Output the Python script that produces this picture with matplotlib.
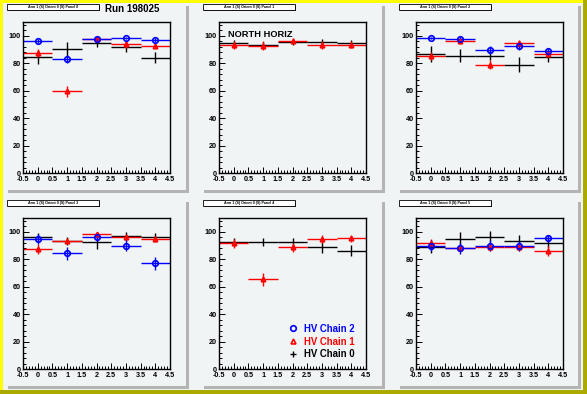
import matplotlib
matplotlib.use("Agg")
import matplotlib.pyplot as plt
from matplotlib.patches import Rectangle
from matplotlib.ticker import MultipleLocator, FixedLocator
from matplotlib.lines import Line2D

plt.rcParams['font.family'] = ['Liberation Sans', 'DejaVu Sans']

W, H = 587, 394

# ---------------- data ----------------
bins = [0, 1, 2, 3, 4]
panel_titles = ["Arm 1 (S) Orient 0 (S) Panel 0", "Arm 1 (S) Orient 0 (S) Panel 1",
                "Arm 1 (S) Orient 0 (S) Panel 2", "Arm 1 (S) Orient 0 (S) Panel 3",
                "Arm 1 (S) Orient 0 (S) Panel 4", "Arm 1 (S) Orient 0 (S) Panel 5"]
series_labels = ["HV Chain 2", "HV Chain 1", "HV Chain 0"]
x_tick_labels = ['-0.5', '0', '0.5', '1', '1.5', '2', '2.5', '3', '3.5', '4', '4.5']

chain2_vals = [[96.1, 83.1, 97.6, 98.3, 96.9],
               None,
               [98.3, 97.6, 89.6, 92.8, 88.7],
               [94.7, 84.2, 96.4, 89.8, 76.9],
               None,
               [89.8, 87.9, 89.8, 89.8, 95.1]]
chain2_errs = [[1.5, 3.0, 1.2, 1.0, 1.2],
               None,
               [1.0, 1.2, 3.0, 3.5, 2.5],
               [3.5, 5.0, 3.0, 4.0, 4.5],
               None,
               [4.0, 4.0, 4.0, 3.5, 2.5]]
chain1_vals = [[87.5, 59.5, 97.6, 94.0, 92.8],
               [93.5, 92.8, 96.4, 93.5, 93.5],
               [85.5, 96.4, 79.0, 94.7, 86.7],
               [87.4, 93.2, 98.1, 96.4, 94.7],
               [91.5, 65.3, 88.6, 94.7, 95.1],
               [91.5, 88.3, 88.6, 88.6, 86.0]]
chain1_errs = [[3.0, 4.0, 1.5, 3.0, 2.0],
               [3.0, 3.0, 2.0, 3.0, 2.5],
               [3.0, 2.5, 3.0, 2.0, 2.0],
               [3.5, 2.5, 2.0, 2.0, 2.5],
               [3.5, 4.5, 3.5, 3.0, 2.5],
               [3.0, 3.0, 3.0, 3.0, 3.5]]
chain0_vals = [[84.3, 90.4, 94.7, 92.0, 83.9],
               [94.7, 93.3, 95.6, 95.3, 94.7],
               [86.7, 85.5, 85.5, 79.0, 84.8],
               [95.9, 93.5, 92.2, 96.6, 95.9],
               [92.7, 92.7, 92.7, 88.6, 86.2],
               [88.6, 95.0, 96.4, 93.4, 92.0]]
chain0_errs = [[5.0, 5.0, 3.0, 4.0, 4.0],
               [2.0, 2.0, 2.0, 2.0, 2.0],
               [5.5, 5.0, 3.5, 5.5, 4.0],
               [3.0, 3.0, 4.5, 3.0, 3.0],
               [3.0, 3.0, 3.0, 4.0, 4.0],
               [4.0, 5.0, 4.0, 4.0, 4.0]]

bg = '#f0f4f4'
fig = plt.figure(figsize=(W / 100, H / 100), dpi=100, facecolor=bg)

def frect(x, y, w, h, z=-10, **kw):
    r = Rectangle((x / W, 1 - (y + h) / H), w / W, h / H, transform=fig.transFigure,
                  zorder=z, **kw)
    fig.patches.append(r)
    return r

# canvas border
frect(0, 0, W, 3, facecolor='#ffff00', edgecolor='none')
frect(0, 0, 3, H, facecolor='#ffff00', edgecolor='none')
frect(W - 4, 0, 4, H, facecolor='#aaaa00', edgecolor='none')
frect(0, H - 4, W, 4, facecolor='#aaaa00', edgecolor='none')

pad_x = [5, 201, 397]
pad_y = [3, 199]
pad_w, pad_h = 181, 187
ax_x = [23, 219, 416]
ax_y = [22, 218]
ax_w, ax_h = 147, 151

for i in range(6):
    r, c = divmod(i, 3)
    px, py = pad_x[c], pad_y[r]
    # pad shadow and body
    frect(px + 3, py + 3, pad_w, pad_h, facecolor='#b4b4b4', edgecolor='none')
    frect(px, py, pad_w, pad_h, facecolor=bg, edgecolor='none', z=-9)
    # title box
    frect(px + 3, py + 1.5, 92, 6.5, facecolor='black', edgecolor='none', z=5)
    frect(px + 2, py + 0.5, 92, 6.5, facecolor='white', edgecolor='black', linewidth=0.6, z=6)
    fig.text((px + 48) / W, 1 - (py + 3.8) / H, panel_titles[i], fontsize=2.6,
             fontweight='bold', ha='center', va='center', zorder=7)

    ax = fig.add_axes([ax_x[c] / W, 1 - (ax_y[r] + ax_h) / H, ax_w / W, ax_h / H])
    ax.set_facecolor(bg)
    ax.set_xlim(-0.5, 4.5)
    ax.set_ylim(0, 110)
    for s in ax.spines.values():
        s.set_linewidth(1.0)
    ax.xaxis.set_major_locator(FixedLocator([-0.5, 0, 0.5, 1, 1.5, 2, 2.5, 3, 3.5, 4, 4.5]))
    ax.set_xticklabels(x_tick_labels)
    ax.xaxis.set_minor_locator(MultipleLocator(0.1))
    ax.yaxis.set_major_locator(MultipleLocator(20))
    ax.yaxis.set_minor_locator(MultipleLocator(4))
    ax.tick_params(which='both', direction='in', top=False, right=False, width=0.7,
                   labelsize=5.2)
    ax.tick_params(axis='x', pad=2.2)
    ax.tick_params(axis='y', pad=1.5)
    ax.tick_params(which='major', length=4)
    ax.tick_params(which='minor', length=2)
    for lab in ax.get_xticklabels() + ax.get_yticklabels():
        lab.set_fontweight('bold')
    ax.get_yticklabels()[0].set_va('bottom')

    ax.errorbar(bins, chain0_vals[i], xerr=0.5, yerr=chain0_errs[i], fmt='none',
                ecolor='black', elinewidth=1.0, capsize=0)
    ax.errorbar(bins, chain1_vals[i], xerr=0.5, yerr=chain1_errs[i], fmt='^',
                color='red', ecolor='red', elinewidth=1.0, capsize=0, ms=3.2,
                mfc='none', mec='red', mew=1.2)
    if chain2_vals[i] is not None:
        ax.errorbar(bins, chain2_vals[i], xerr=0.5, yerr=chain2_errs[i], fmt='o',
                    color='blue', ecolor='blue', elinewidth=1.0, capsize=0, ms=4,
                    mfc='none', mec='blue', mew=1.2)

    if i == 1:
        ax.text(0.06, 0.95, "NORTH HORIZ", transform=ax.transAxes, fontsize=6.7,
                fontweight='bold', va='top', ha='left')
    if i == 4:
        handles = [Line2D([], [], ls='none', marker='o', mfc='none', mec='blue', mew=1.2, ms=4),
                   Line2D([], [], ls='none', marker='^', mfc='none', mec='red', mew=1.2, ms=3.5),
                   Line2D([], [], ls='none', marker='+', color='black', mew=1.0, ms=5)]
        leg = ax.legend(handles, series_labels, loc='lower right', frameon=False,
                        prop={'weight': 'bold', 'size': 6.9}, handlelength=1.0,
                        handletextpad=0.7, labelspacing=0.3, borderaxespad=0.2,
                        bbox_to_anchor=(0.965, 0.025))
        for t, col in zip(leg.get_texts(), ['blue', 'red', 'black']):
            t.set_color(col)

fig.text(105 / W, 1 - 8.5 / H, "Run 198025", fontsize=7, fontweight='bold',
         ha='left', va='center')

fig.savefig("out.png", dpi=100, facecolor=bg)
